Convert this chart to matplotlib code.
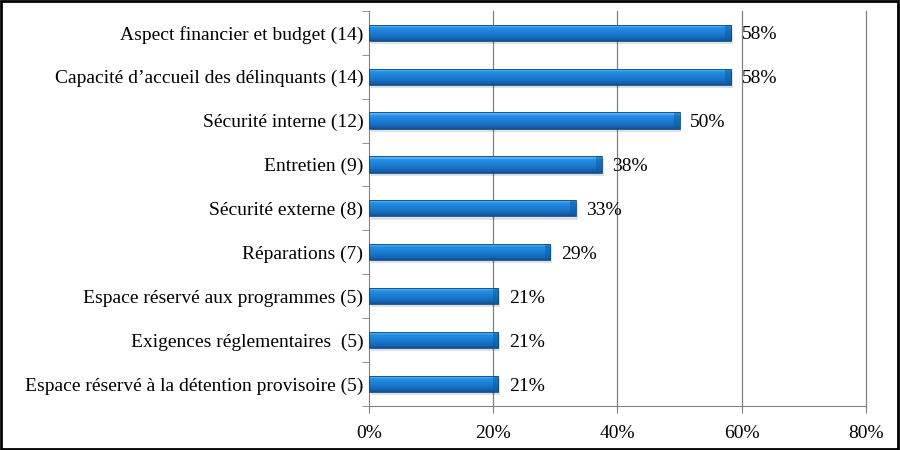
import matplotlib
matplotlib.use("Agg")
import matplotlib.pyplot as plt
import numpy as np
from matplotlib.colors import LinearSegmentedColormap
from matplotlib.patches import Rectangle

categories = [
    "Aspect financier et budget (14)",
    "Capacité d\u2019accueil des délinquants (14)",
    "Sécurité interne (12)",
    "Entretien (9)",
    "Sécurité externe (8)",
    "Réparations (7)",
    "Espace réservé aux programmes (5)",
    "Exigences réglementaires  (5)",
    "Espace réservé à la détention provisoire (5)",
]
values = [58.3, 58.3, 50.0, 37.5, 33.3, 29.2, 20.8, 20.8, 20.8]
labels = ["58%", "58%", "50%", "38%", "33%", "29%", "21%", "21%", "21%"]
xticks = [0, 20, 40, 60, 80]
xticklabels = ["0%", "20%", "40%", "60%", "80%"]

plt.rcParams['font.family'] = ['Liberation Serif', 'DejaVu Serif']
FS = 14.0

fig = plt.figure(figsize=(9, 4.5), dpi=100)
ax = fig.add_axes([0.41, 0.098, 0.552, 0.878])

n = len(categories)
ypos = np.arange(n)[::-1]
h = 0.37

cmap = LinearSegmentedColormap.from_list("cyl", [
    (0.0, "#0d4f96"), (0.15, "#1565b5"), (0.5, "#1c7fd4"),
    (0.8, "#2590e6"), (0.9, "#63b6f2"), (1.0, "#4aa2e8")])
grad = np.linspace(0, 1, 64).reshape(-1, 1)

ax.set_xlim(0, 80)
ax.set_ylim(-0.5, n - 0.5)

for y, v, lab in zip(ypos, values, labels):
    sh = Rectangle((0.3, y - h / 2 - 0.07), v, h, facecolor="#000000", alpha=0.12,
                   edgecolor="none", zorder=2)
    ax.add_patch(sh)
    rect = Rectangle((0, y - h / 2), v, h, facecolor="none", edgecolor="#0a4a85",
                     linewidth=0.6, zorder=4)
    ax.add_patch(rect)
    im = ax.imshow(grad, cmap=cmap, aspect="auto", origin="lower",
                   extent=(0, v, y - h / 2, y + h / 2), zorder=3)
    im.set_clip_path(rect)
    cap = Rectangle((v - 0.9, y - h / 2), 0.9, h, facecolor="#0d5aa0", alpha=0.5,
                    edgecolor="none", zorder=3.5)
    ax.add_patch(cap)
    ax.text(v + 1.7, y - 0.05, lab, va="center", ha="left", fontsize=FS, color="#000000")

ax.set_xlim(0, 80)
ax.set_ylim(-0.5, n - 0.5)
ax.set_xticks(xticks)
ax.set_xticklabels(xticklabels, fontsize=FS)
ax.set_yticks(ypos)
ax.set_yticklabels(categories, fontsize=FS)
ax.set_yticks(np.arange(-0.5, n, 1), minor=True)
ax.tick_params(axis="y", which="major", length=0, pad=4)
ax.tick_params(axis="y", which="minor", length=5, color="#808080", direction="out")
ax.tick_params(axis="x", which="major", length=5, color="#808080", direction="out", pad=9)

for xt in xticks[1:]:
    ax.axvline(xt, color="#808080", linewidth=0.9, zorder=1, clip_on=False)
for s in ["top", "right"]:
    ax.spines[s].set_visible(False)
ax.spines["left"].set_color("#808080")
ax.spines["bottom"].set_color("#808080")

border = Rectangle((0.001, 0.002), 0.997, 0.995, transform=fig.transFigure, fill=False,
                   edgecolor="black", linewidth=2, zorder=10)
fig.patches.append(border)

fig.savefig("out.png", dpi=100)
